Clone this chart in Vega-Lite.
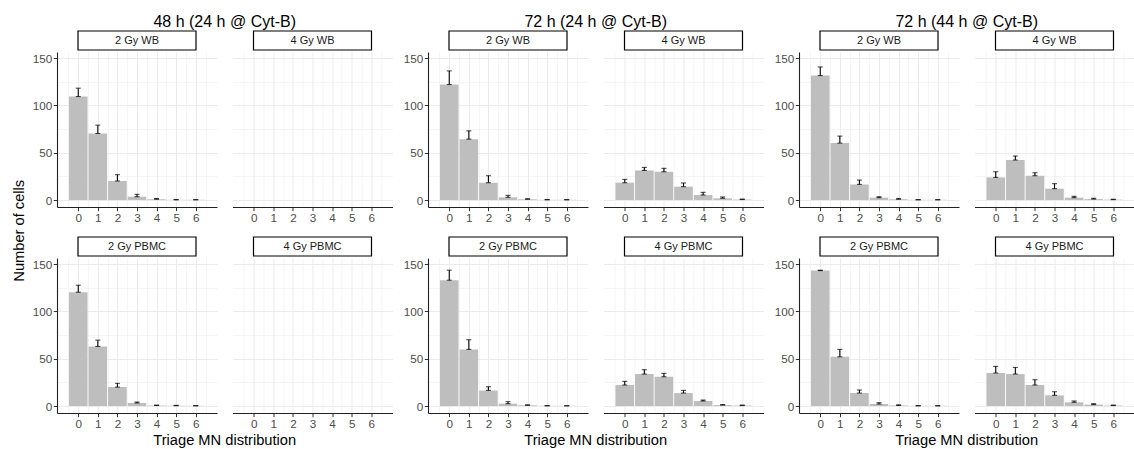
{
"$schema": "https://vega.github.io/schema/vega-lite/v6.json",
"background": "white",
"autosize": {"type": "pad"},
"padding": {"left": 11, "top": 13, "right": 0, "bottom": 0},
"title": {"text": "Number of cells", "orient": "left", "anchor": "middle", "fontSize": 14.67, "offset": 6},
"spacing": 10,
"datasets": {"bars": [
{"group":"g1","panel":"2 Gy WB","MN":0,"value":109.5,"upper":118.3},
{"group":"g1","panel":"2 Gy WB","MN":1,"value":70.4,"upper":79.2},
{"group":"g1","panel":"2 Gy WB","MN":2,"value":20.1,"upper":26.8},
{"group":"g1","panel":"2 Gy WB","MN":3,"value":3.5,"upper":6.0},
{"group":"g1","panel":"2 Gy WB","MN":4,"value":0.8,"upper":1.6},
{"group":"g1","panel":"2 Gy WB","MN":5,"value":0.2,"upper":0.5},
{"group":"g1","panel":"2 Gy WB","MN":6,"value":0.2,"upper":0.4},
{"group":"g1","panel":"2 Gy PBMC","MN":0,"value":120.4,"upper":127.8},
{"group":"g1","panel":"2 Gy PBMC","MN":1,"value":63.0,"upper":69.7},
{"group":"g1","panel":"2 Gy PBMC","MN":2,"value":20.0,"upper":24.0},
{"group":"g1","panel":"2 Gy PBMC","MN":3,"value":3.2,"upper":4.2},
{"group":"g1","panel":"2 Gy PBMC","MN":4,"value":0.5,"upper":1.0},
{"group":"g1","panel":"2 Gy PBMC","MN":5,"value":0.3,"upper":0.7},
{"group":"g1","panel":"2 Gy PBMC","MN":6,"value":0.2,"upper":0.4},
{"group":"g2","panel":"2 Gy WB","MN":0,"value":122.2,"upper":136.6},
{"group":"g2","panel":"2 Gy WB","MN":1,"value":64.4,"upper":73.2},
{"group":"g2","panel":"2 Gy WB","MN":2,"value":18.3,"upper":25.7},
{"group":"g2","panel":"2 Gy WB","MN":3,"value":2.8,"upper":4.9},
{"group":"g2","panel":"2 Gy WB","MN":4,"value":0.8,"upper":1.3},
{"group":"g2","panel":"2 Gy WB","MN":5,"value":0.2,"upper":0.5},
{"group":"g2","panel":"2 Gy WB","MN":6,"value":0.2,"upper":0.4},
{"group":"g2","panel":"4 Gy WB","MN":0,"value":18.3,"upper":21.8},
{"group":"g2","panel":"4 Gy WB","MN":1,"value":31.3,"upper":34.5},
{"group":"g2","panel":"4 Gy WB","MN":2,"value":29.9,"upper":33.5},
{"group":"g2","panel":"4 Gy WB","MN":3,"value":14.1,"upper":18.0},
{"group":"g2","panel":"4 Gy WB","MN":4,"value":5.3,"upper":8.1},
{"group":"g2","panel":"4 Gy WB","MN":5,"value":1.8,"upper":3.2},
{"group":"g2","panel":"4 Gy WB","MN":6,"value":0.5,"upper":1.0},
{"group":"g2","panel":"2 Gy PBMC","MN":0,"value":133.1,"upper":143.7},
{"group":"g2","panel":"2 Gy PBMC","MN":1,"value":59.9,"upper":70.1},
{"group":"g2","panel":"2 Gy PBMC","MN":2,"value":16.5,"upper":20.4},
{"group":"g2","panel":"2 Gy PBMC","MN":3,"value":2.5,"upper":4.6},
{"group":"g2","panel":"2 Gy PBMC","MN":4,"value":0.8,"upper":1.2},
{"group":"g2","panel":"2 Gy PBMC","MN":5,"value":0.2,"upper":0.4},
{"group":"g2","panel":"2 Gy PBMC","MN":6,"value":0.2,"upper":0.3},
{"group":"g2","panel":"4 Gy PBMC","MN":0,"value":22.2,"upper":26.1},
{"group":"g2","panel":"4 Gy PBMC","MN":1,"value":33.8,"upper":38.4},
{"group":"g2","panel":"4 Gy PBMC","MN":2,"value":31.0,"upper":34.5},
{"group":"g2","panel":"4 Gy PBMC","MN":3,"value":13.7,"upper":16.5},
{"group":"g2","panel":"4 Gy PBMC","MN":4,"value":5.3,"upper":6.3},
{"group":"g2","panel":"4 Gy PBMC","MN":5,"value":1.0,"upper":1.5},
{"group":"g2","panel":"4 Gy PBMC","MN":6,"value":0.5,"upper":1.0},
{"group":"g3","panel":"2 Gy WB","MN":0,"value":131.7,"upper":140.8},
{"group":"g3","panel":"2 Gy WB","MN":1,"value":60.2,"upper":67.6},
{"group":"g3","panel":"2 Gy WB","MN":2,"value":16.5,"upper":21.1},
{"group":"g3","panel":"2 Gy WB","MN":3,"value":2.5,"upper":3.5},
{"group":"g3","panel":"2 Gy WB","MN":4,"value":0.8,"upper":1.5},
{"group":"g3","panel":"2 Gy WB","MN":5,"value":0.2,"upper":0.4},
{"group":"g3","panel":"2 Gy WB","MN":6,"value":0.2,"upper":0.4},
{"group":"g3","panel":"4 Gy WB","MN":0,"value":23.9,"upper":29.9},
{"group":"g3","panel":"4 Gy WB","MN":1,"value":42.3,"upper":46.5},
{"group":"g3","panel":"4 Gy WB","MN":2,"value":25.7,"upper":28.9},
{"group":"g3","panel":"4 Gy WB","MN":3,"value":12.0,"upper":17.3},
{"group":"g3","panel":"4 Gy WB","MN":4,"value":2.5,"upper":3.9},
{"group":"g3","panel":"4 Gy WB","MN":5,"value":1.0,"upper":1.8},
{"group":"g3","panel":"4 Gy WB","MN":6,"value":0.4,"upper":0.8},
{"group":"g3","panel":"2 Gy PBMC","MN":0,"value":143.3,"upper":143.7},
{"group":"g3","panel":"2 Gy PBMC","MN":1,"value":52.1,"upper":59.9},
{"group":"g3","panel":"2 Gy PBMC","MN":2,"value":13.7,"upper":16.9},
{"group":"g3","panel":"2 Gy PBMC","MN":3,"value":2.1,"upper":3.5},
{"group":"g3","panel":"2 Gy PBMC","MN":4,"value":0.6,"upper":1.2},
{"group":"g3","panel":"2 Gy PBMC","MN":5,"value":0.2,"upper":0.4},
{"group":"g3","panel":"2 Gy PBMC","MN":6,"value":0.2,"upper":0.3},
{"group":"g3","panel":"4 Gy PBMC","MN":0,"value":34.9,"upper":41.9},
{"group":"g3","panel":"4 Gy PBMC","MN":1,"value":33.8,"upper":40.8},
{"group":"g3","panel":"4 Gy PBMC","MN":2,"value":22.2,"upper":27.8},
{"group":"g3","panel":"4 Gy PBMC","MN":3,"value":11.3,"upper":15.1},
{"group":"g3","panel":"4 Gy PBMC","MN":4,"value":3.9,"upper":5.3},
{"group":"g3","panel":"4 Gy PBMC","MN":5,"value":1.5,"upper":2.5},
{"group":"g3","panel":"4 Gy PBMC","MN":6,"value":0.5,"upper":1.0}
]},
"hconcat": [
{"title": {"text": "48 h (24 h @ Cyt-B)", "fontSize": 16, "anchor": "middle", "dx": 12.3, "offset": 0.5},
 "spacing": 12,
 "vconcat": [
  {"spacing": 15.5, "hconcat": [
   {"spacing": 1, "vconcat": [
    {"width": 160, "height": 19, "data": {"values": [{"label": "2 Gy WB"}]}, "layer": [
     {"mark": {"type": "rect", "fill": "white", "stroke": "black", "strokeWidth": 1.2}, "encoding": {"x": {"datum": 0, "type": "quantitative", "scale": {"domain": [-0.178, 1.178], "nice": false, "zero": false}, "axis": null}, "x2": {"datum": 1}}},
     {"mark": {"type": "text", "fontSize": 11, "color": "#1a1a1a"}, "encoding": {"text": {"field": "label"}}}]},
    {"width": 160, "height": 155, "data": {"name": "bars"}, "transform": [{"filter": "datum.group == 'g1' && datum.panel == '2 Gy WB'"}],
     "encoding": {
      "x": {"field": "MN", "type": "quantitative", "scale": {"domain": [-0.83, 6.83], "nice": false, "zero": false}, "axis": {"title": null, "values": [-0.5,0,0.5,1,1.5,2,2.5,3,3.5,4,4.5,5,5.5,6,6.5], "format": ".0f", "labelExpr": "datum.value % 1 == 0 ? datum.label : ''", "tickOpacity": {"condition": {"test": "datum.value % 1 != 0", "value": 0}, "value": 1}, "gridWidth": {"condition": {"test": "datum.value % 1 != 0", "value": 0.5}, "value": 1}, "grid": true, "labelOverlap": false, "labelBound": false, "labelFlush": false}},
      "y": {"field": "value", "type": "quantitative", "scale": {"domain": [-7.4, 156.6], "nice": false, "zero": false}, "axis": {"title": null, "values": [0,25,50,75,100,125,150], "labelExpr": "datum.value % 50 == 0 ? datum.label : ''", "tickOpacity": {"condition": {"test": "datum.value % 50 != 0", "value": 0}, "value": 1}, "gridWidth": {"condition": {"test": "datum.value % 50 != 0", "value": 0.5}, "value": 1}, "grid": true, "labelOverlap": false}}},
     "layer": [
      {"mark": {"type": "bar", "width": 18.6, "fill": "#bebebe"}, "encoding": {"y2": {"datum": 0}}},
      {"mark": {"type": "rule", "color": "black", "strokeWidth": 1.1}, "encoding": {"y2": {"field": "upper"}}},
      {"mark": {"type": "tick", "orient": "horizontal", "size": 5, "thickness": 1.1, "color": "black"}},
      {"mark": {"type": "tick", "orient": "horizontal", "size": 5, "thickness": 1.1, "color": "black"}, "encoding": {"y": {"field": "upper", "type": "quantitative", "scale": {"domain": [-7.4, 156.6], "nice": false, "zero": false}, "axis": {"title": null, "values": [0,25,50,75,100,125,150], "labelExpr": "datum.value % 50 == 0 ? datum.label : ''", "tickOpacity": {"condition": {"test": "datum.value % 50 != 0", "value": 0}, "value": 1}, "gridWidth": {"condition": {"test": "datum.value % 50 != 0", "value": 0.5}, "value": 1}, "grid": true, "labelOverlap": false}}}}
     ]}
   ]},
   {"spacing": 1, "vconcat": [
    {"width": 160, "height": 19, "data": {"values": [{"label": "4 Gy WB"}]}, "layer": [
     {"mark": {"type": "rect", "fill": "white", "stroke": "black", "strokeWidth": 1.2}, "encoding": {"x": {"datum": 0, "type": "quantitative", "scale": {"domain": [-0.178, 1.178], "nice": false, "zero": false}, "axis": null}, "x2": {"datum": 1}}},
     {"mark": {"type": "text", "fontSize": 11, "color": "#1a1a1a"}, "encoding": {"text": {"field": "label"}}}]},
    {"width": 160, "height": 155, "data": {"name": "bars"}, "transform": [{"filter": "datum.group == 'g1' && datum.panel == '4 Gy WB'"}],
     "encoding": {
      "x": {"field": "MN", "type": "quantitative", "scale": {"domain": [-0.83, 6.83], "nice": false, "zero": false}, "axis": {"title": null, "values": [-0.5,0,0.5,1,1.5,2,2.5,3,3.5,4,4.5,5,5.5,6,6.5], "format": ".0f", "labelExpr": "datum.value % 1 == 0 ? datum.label : ''", "tickOpacity": {"condition": {"test": "datum.value % 1 != 0", "value": 0}, "value": 1}, "gridWidth": {"condition": {"test": "datum.value % 1 != 0", "value": 0.5}, "value": 1}, "grid": true, "labelOverlap": false, "labelBound": false, "labelFlush": false}},
      "y": {"field": "value", "type": "quantitative", "scale": {"domain": [-7.4, 156.6], "nice": false, "zero": false}, "axis": {"title": null, "values": [0,25,50,75,100,125,150], "labels": false, "ticks": false, "domain": false, "gridWidth": {"condition": {"test": "datum.value % 50 != 0", "value": 0.5}, "value": 1}, "grid": true}}},
     "layer": [
      {"mark": {"type": "bar", "width": 18.6, "fill": "#bebebe"}, "encoding": {"y2": {"datum": 0}}},
      {"mark": {"type": "rule", "color": "black", "strokeWidth": 1.1}, "encoding": {"y2": {"field": "upper"}}},
      {"mark": {"type": "tick", "orient": "horizontal", "size": 5, "thickness": 1.1, "color": "black"}},
      {"mark": {"type": "tick", "orient": "horizontal", "size": 5, "thickness": 1.1, "color": "black"}, "encoding": {"y": {"field": "upper", "type": "quantitative", "scale": {"domain": [-7.4, 156.6], "nice": false, "zero": false}, "axis": {"title": null, "values": [0,25,50,75,100,125,150], "labels": false, "ticks": false, "domain": false, "gridWidth": {"condition": {"test": "datum.value % 50 != 0", "value": 0.5}, "value": 1}, "grid": true}}}}
     ]}
   ]}
  ]},
  {"spacing": 15.5, "title": {"text": "Triage MN distribution", "orient": "bottom", "fontSize": 14.67, "anchor": "middle", "dx": 12.3, "offset": 3}, "hconcat": [
   {"spacing": 1, "vconcat": [
    {"width": 160, "height": 19, "data": {"values": [{"label": "2 Gy PBMC"}]}, "layer": [
     {"mark": {"type": "rect", "fill": "white", "stroke": "black", "strokeWidth": 1.2}, "encoding": {"x": {"datum": 0, "type": "quantitative", "scale": {"domain": [-0.178, 1.178], "nice": false, "zero": false}, "axis": null}, "x2": {"datum": 1}}},
     {"mark": {"type": "text", "fontSize": 11, "color": "#1a1a1a"}, "encoding": {"text": {"field": "label"}}}]},
    {"width": 160, "height": 155, "data": {"name": "bars"}, "transform": [{"filter": "datum.group == 'g1' && datum.panel == '2 Gy PBMC'"}],
     "encoding": {
      "x": {"field": "MN", "type": "quantitative", "scale": {"domain": [-0.83, 6.83], "nice": false, "zero": false}, "axis": {"title": null, "values": [-0.5,0,0.5,1,1.5,2,2.5,3,3.5,4,4.5,5,5.5,6,6.5], "format": ".0f", "labelExpr": "datum.value % 1 == 0 ? datum.label : ''", "tickOpacity": {"condition": {"test": "datum.value % 1 != 0", "value": 0}, "value": 1}, "gridWidth": {"condition": {"test": "datum.value % 1 != 0", "value": 0.5}, "value": 1}, "grid": true, "labelOverlap": false, "labelBound": false, "labelFlush": false}},
      "y": {"field": "value", "type": "quantitative", "scale": {"domain": [-7.4, 156.6], "nice": false, "zero": false}, "axis": {"title": null, "values": [0,25,50,75,100,125,150], "labelExpr": "datum.value % 50 == 0 ? datum.label : ''", "tickOpacity": {"condition": {"test": "datum.value % 50 != 0", "value": 0}, "value": 1}, "gridWidth": {"condition": {"test": "datum.value % 50 != 0", "value": 0.5}, "value": 1}, "grid": true, "labelOverlap": false}}},
     "layer": [
      {"mark": {"type": "bar", "width": 18.6, "fill": "#bebebe"}, "encoding": {"y2": {"datum": 0}}},
      {"mark": {"type": "rule", "color": "black", "strokeWidth": 1.1}, "encoding": {"y2": {"field": "upper"}}},
      {"mark": {"type": "tick", "orient": "horizontal", "size": 5, "thickness": 1.1, "color": "black"}},
      {"mark": {"type": "tick", "orient": "horizontal", "size": 5, "thickness": 1.1, "color": "black"}, "encoding": {"y": {"field": "upper", "type": "quantitative", "scale": {"domain": [-7.4, 156.6], "nice": false, "zero": false}, "axis": {"title": null, "values": [0,25,50,75,100,125,150], "labelExpr": "datum.value % 50 == 0 ? datum.label : ''", "tickOpacity": {"condition": {"test": "datum.value % 50 != 0", "value": 0}, "value": 1}, "gridWidth": {"condition": {"test": "datum.value % 50 != 0", "value": 0.5}, "value": 1}, "grid": true, "labelOverlap": false}}}}
     ]}
   ]},
   {"spacing": 1, "vconcat": [
    {"width": 160, "height": 19, "data": {"values": [{"label": "4 Gy PBMC"}]}, "layer": [
     {"mark": {"type": "rect", "fill": "white", "stroke": "black", "strokeWidth": 1.2}, "encoding": {"x": {"datum": 0, "type": "quantitative", "scale": {"domain": [-0.178, 1.178], "nice": false, "zero": false}, "axis": null}, "x2": {"datum": 1}}},
     {"mark": {"type": "text", "fontSize": 11, "color": "#1a1a1a"}, "encoding": {"text": {"field": "label"}}}]},
    {"width": 160, "height": 155, "data": {"name": "bars"}, "transform": [{"filter": "datum.group == 'g1' && datum.panel == '4 Gy PBMC'"}],
     "encoding": {
      "x": {"field": "MN", "type": "quantitative", "scale": {"domain": [-0.83, 6.83], "nice": false, "zero": false}, "axis": {"title": null, "values": [-0.5,0,0.5,1,1.5,2,2.5,3,3.5,4,4.5,5,5.5,6,6.5], "format": ".0f", "labelExpr": "datum.value % 1 == 0 ? datum.label : ''", "tickOpacity": {"condition": {"test": "datum.value % 1 != 0", "value": 0}, "value": 1}, "gridWidth": {"condition": {"test": "datum.value % 1 != 0", "value": 0.5}, "value": 1}, "grid": true, "labelOverlap": false, "labelBound": false, "labelFlush": false}},
      "y": {"field": "value", "type": "quantitative", "scale": {"domain": [-7.4, 156.6], "nice": false, "zero": false}, "axis": {"title": null, "values": [0,25,50,75,100,125,150], "labels": false, "ticks": false, "domain": false, "gridWidth": {"condition": {"test": "datum.value % 50 != 0", "value": 0.5}, "value": 1}, "grid": true}}},
     "layer": [
      {"mark": {"type": "bar", "width": 18.6, "fill": "#bebebe"}, "encoding": {"y2": {"datum": 0}}},
      {"mark": {"type": "rule", "color": "black", "strokeWidth": 1.1}, "encoding": {"y2": {"field": "upper"}}},
      {"mark": {"type": "tick", "orient": "horizontal", "size": 5, "thickness": 1.1, "color": "black"}},
      {"mark": {"type": "tick", "orient": "horizontal", "size": 5, "thickness": 1.1, "color": "black"}, "encoding": {"y": {"field": "upper", "type": "quantitative", "scale": {"domain": [-7.4, 156.6], "nice": false, "zero": false}, "axis": {"title": null, "values": [0,25,50,75,100,125,150], "labels": false, "ticks": false, "domain": false, "gridWidth": {"condition": {"test": "datum.value % 50 != 0", "value": 0.5}, "value": 1}, "grid": true}}}}
     ]}
   ]}
  ]}
 ]},
{"title": {"text": "72 h (24 h @ Cyt-B)", "fontSize": 16, "anchor": "middle", "dx": 12.3, "offset": 0.5},
 "spacing": 12,
 "vconcat": [
  {"spacing": 15.5, "hconcat": [
   {"spacing": 1, "vconcat": [
    {"width": 160, "height": 19, "data": {"values": [{"label": "2 Gy WB"}]}, "layer": [
     {"mark": {"type": "rect", "fill": "white", "stroke": "black", "strokeWidth": 1.2}, "encoding": {"x": {"datum": 0, "type": "quantitative", "scale": {"domain": [-0.178, 1.178], "nice": false, "zero": false}, "axis": null}, "x2": {"datum": 1}}},
     {"mark": {"type": "text", "fontSize": 11, "color": "#1a1a1a"}, "encoding": {"text": {"field": "label"}}}]},
    {"width": 160, "height": 155, "data": {"name": "bars"}, "transform": [{"filter": "datum.group == 'g2' && datum.panel == '2 Gy WB'"}],
     "encoding": {
      "x": {"field": "MN", "type": "quantitative", "scale": {"domain": [-0.83, 6.83], "nice": false, "zero": false}, "axis": {"title": null, "values": [-0.5,0,0.5,1,1.5,2,2.5,3,3.5,4,4.5,5,5.5,6,6.5], "format": ".0f", "labelExpr": "datum.value % 1 == 0 ? datum.label : ''", "tickOpacity": {"condition": {"test": "datum.value % 1 != 0", "value": 0}, "value": 1}, "gridWidth": {"condition": {"test": "datum.value % 1 != 0", "value": 0.5}, "value": 1}, "grid": true, "labelOverlap": false, "labelBound": false, "labelFlush": false}},
      "y": {"field": "value", "type": "quantitative", "scale": {"domain": [-7.4, 156.6], "nice": false, "zero": false}, "axis": {"title": null, "values": [0,25,50,75,100,125,150], "labelExpr": "datum.value % 50 == 0 ? datum.label : ''", "tickOpacity": {"condition": {"test": "datum.value % 50 != 0", "value": 0}, "value": 1}, "gridWidth": {"condition": {"test": "datum.value % 50 != 0", "value": 0.5}, "value": 1}, "grid": true, "labelOverlap": false}}},
     "layer": [
      {"mark": {"type": "bar", "width": 18.6, "fill": "#bebebe"}, "encoding": {"y2": {"datum": 0}}},
      {"mark": {"type": "rule", "color": "black", "strokeWidth": 1.1}, "encoding": {"y2": {"field": "upper"}}},
      {"mark": {"type": "tick", "orient": "horizontal", "size": 5, "thickness": 1.1, "color": "black"}},
      {"mark": {"type": "tick", "orient": "horizontal", "size": 5, "thickness": 1.1, "color": "black"}, "encoding": {"y": {"field": "upper", "type": "quantitative", "scale": {"domain": [-7.4, 156.6], "nice": false, "zero": false}, "axis": {"title": null, "values": [0,25,50,75,100,125,150], "labelExpr": "datum.value % 50 == 0 ? datum.label : ''", "tickOpacity": {"condition": {"test": "datum.value % 50 != 0", "value": 0}, "value": 1}, "gridWidth": {"condition": {"test": "datum.value % 50 != 0", "value": 0.5}, "value": 1}, "grid": true, "labelOverlap": false}}}}
     ]}
   ]},
   {"spacing": 1, "vconcat": [
    {"width": 160, "height": 19, "data": {"values": [{"label": "4 Gy WB"}]}, "layer": [
     {"mark": {"type": "rect", "fill": "white", "stroke": "black", "strokeWidth": 1.2}, "encoding": {"x": {"datum": 0, "type": "quantitative", "scale": {"domain": [-0.178, 1.178], "nice": false, "zero": false}, "axis": null}, "x2": {"datum": 1}}},
     {"mark": {"type": "text", "fontSize": 11, "color": "#1a1a1a"}, "encoding": {"text": {"field": "label"}}}]},
    {"width": 160, "height": 155, "data": {"name": "bars"}, "transform": [{"filter": "datum.group == 'g2' && datum.panel == '4 Gy WB'"}],
     "encoding": {
      "x": {"field": "MN", "type": "quantitative", "scale": {"domain": [-0.83, 6.83], "nice": false, "zero": false}, "axis": {"title": null, "values": [-0.5,0,0.5,1,1.5,2,2.5,3,3.5,4,4.5,5,5.5,6,6.5], "format": ".0f", "labelExpr": "datum.value % 1 == 0 ? datum.label : ''", "tickOpacity": {"condition": {"test": "datum.value % 1 != 0", "value": 0}, "value": 1}, "gridWidth": {"condition": {"test": "datum.value % 1 != 0", "value": 0.5}, "value": 1}, "grid": true, "labelOverlap": false, "labelBound": false, "labelFlush": false}},
      "y": {"field": "value", "type": "quantitative", "scale": {"domain": [-7.4, 156.6], "nice": false, "zero": false}, "axis": {"title": null, "values": [0,25,50,75,100,125,150], "labels": false, "ticks": false, "domain": false, "gridWidth": {"condition": {"test": "datum.value % 50 != 0", "value": 0.5}, "value": 1}, "grid": true}}},
     "layer": [
      {"mark": {"type": "bar", "width": 18.6, "fill": "#bebebe"}, "encoding": {"y2": {"datum": 0}}},
      {"mark": {"type": "rule", "color": "black", "strokeWidth": 1.1}, "encoding": {"y2": {"field": "upper"}}},
      {"mark": {"type": "tick", "orient": "horizontal", "size": 5, "thickness": 1.1, "color": "black"}},
      {"mark": {"type": "tick", "orient": "horizontal", "size": 5, "thickness": 1.1, "color": "black"}, "encoding": {"y": {"field": "upper", "type": "quantitative", "scale": {"domain": [-7.4, 156.6], "nice": false, "zero": false}, "axis": {"title": null, "values": [0,25,50,75,100,125,150], "labels": false, "ticks": false, "domain": false, "gridWidth": {"condition": {"test": "datum.value % 50 != 0", "value": 0.5}, "value": 1}, "grid": true}}}}
     ]}
   ]}
  ]},
  {"spacing": 15.5, "title": {"text": "Triage MN distribution", "orient": "bottom", "fontSize": 14.67, "anchor": "middle", "dx": 12.3, "offset": 3}, "hconcat": [
   {"spacing": 1, "vconcat": [
    {"width": 160, "height": 19, "data": {"values": [{"label": "2 Gy PBMC"}]}, "layer": [
     {"mark": {"type": "rect", "fill": "white", "stroke": "black", "strokeWidth": 1.2}, "encoding": {"x": {"datum": 0, "type": "quantitative", "scale": {"domain": [-0.178, 1.178], "nice": false, "zero": false}, "axis": null}, "x2": {"datum": 1}}},
     {"mark": {"type": "text", "fontSize": 11, "color": "#1a1a1a"}, "encoding": {"text": {"field": "label"}}}]},
    {"width": 160, "height": 155, "data": {"name": "bars"}, "transform": [{"filter": "datum.group == 'g2' && datum.panel == '2 Gy PBMC'"}],
     "encoding": {
      "x": {"field": "MN", "type": "quantitative", "scale": {"domain": [-0.83, 6.83], "nice": false, "zero": false}, "axis": {"title": null, "values": [-0.5,0,0.5,1,1.5,2,2.5,3,3.5,4,4.5,5,5.5,6,6.5], "format": ".0f", "labelExpr": "datum.value % 1 == 0 ? datum.label : ''", "tickOpacity": {"condition": {"test": "datum.value % 1 != 0", "value": 0}, "value": 1}, "gridWidth": {"condition": {"test": "datum.value % 1 != 0", "value": 0.5}, "value": 1}, "grid": true, "labelOverlap": false, "labelBound": false, "labelFlush": false}},
      "y": {"field": "value", "type": "quantitative", "scale": {"domain": [-7.4, 156.6], "nice": false, "zero": false}, "axis": {"title": null, "values": [0,25,50,75,100,125,150], "labelExpr": "datum.value % 50 == 0 ? datum.label : ''", "tickOpacity": {"condition": {"test": "datum.value % 50 != 0", "value": 0}, "value": 1}, "gridWidth": {"condition": {"test": "datum.value % 50 != 0", "value": 0.5}, "value": 1}, "grid": true, "labelOverlap": false}}},
     "layer": [
      {"mark": {"type": "bar", "width": 18.6, "fill": "#bebebe"}, "encoding": {"y2": {"datum": 0}}},
      {"mark": {"type": "rule", "color": "black", "strokeWidth": 1.1}, "encoding": {"y2": {"field": "upper"}}},
      {"mark": {"type": "tick", "orient": "horizontal", "size": 5, "thickness": 1.1, "color": "black"}},
      {"mark": {"type": "tick", "orient": "horizontal", "size": 5, "thickness": 1.1, "color": "black"}, "encoding": {"y": {"field": "upper", "type": "quantitative", "scale": {"domain": [-7.4, 156.6], "nice": false, "zero": false}, "axis": {"title": null, "values": [0,25,50,75,100,125,150], "labelExpr": "datum.value % 50 == 0 ? datum.label : ''", "tickOpacity": {"condition": {"test": "datum.value % 50 != 0", "value": 0}, "value": 1}, "gridWidth": {"condition": {"test": "datum.value % 50 != 0", "value": 0.5}, "value": 1}, "grid": true, "labelOverlap": false}}}}
     ]}
   ]},
   {"spacing": 1, "vconcat": [
    {"width": 160, "height": 19, "data": {"values": [{"label": "4 Gy PBMC"}]}, "layer": [
     {"mark": {"type": "rect", "fill": "white", "stroke": "black", "strokeWidth": 1.2}, "encoding": {"x": {"datum": 0, "type": "quantitative", "scale": {"domain": [-0.178, 1.178], "nice": false, "zero": false}, "axis": null}, "x2": {"datum": 1}}},
     {"mark": {"type": "text", "fontSize": 11, "color": "#1a1a1a"}, "encoding": {"text": {"field": "label"}}}]},
    {"width": 160, "height": 155, "data": {"name": "bars"}, "transform": [{"filter": "datum.group == 'g2' && datum.panel == '4 Gy PBMC'"}],
     "encoding": {
      "x": {"field": "MN", "type": "quantitative", "scale": {"domain": [-0.83, 6.83], "nice": false, "zero": false}, "axis": {"title": null, "values": [-0.5,0,0.5,1,1.5,2,2.5,3,3.5,4,4.5,5,5.5,6,6.5], "format": ".0f", "labelExpr": "datum.value % 1 == 0 ? datum.label : ''", "tickOpacity": {"condition": {"test": "datum.value % 1 != 0", "value": 0}, "value": 1}, "gridWidth": {"condition": {"test": "datum.value % 1 != 0", "value": 0.5}, "value": 1}, "grid": true, "labelOverlap": false, "labelBound": false, "labelFlush": false}},
      "y": {"field": "value", "type": "quantitative", "scale": {"domain": [-7.4, 156.6], "nice": false, "zero": false}, "axis": {"title": null, "values": [0,25,50,75,100,125,150], "labels": false, "ticks": false, "domain": false, "gridWidth": {"condition": {"test": "datum.value % 50 != 0", "value": 0.5}, "value": 1}, "grid": true}}},
     "layer": [
      {"mark": {"type": "bar", "width": 18.6, "fill": "#bebebe"}, "encoding": {"y2": {"datum": 0}}},
      {"mark": {"type": "rule", "color": "black", "strokeWidth": 1.1}, "encoding": {"y2": {"field": "upper"}}},
      {"mark": {"type": "tick", "orient": "horizontal", "size": 5, "thickness": 1.1, "color": "black"}},
      {"mark": {"type": "tick", "orient": "horizontal", "size": 5, "thickness": 1.1, "color": "black"}, "encoding": {"y": {"field": "upper", "type": "quantitative", "scale": {"domain": [-7.4, 156.6], "nice": false, "zero": false}, "axis": {"title": null, "values": [0,25,50,75,100,125,150], "labels": false, "ticks": false, "domain": false, "gridWidth": {"condition": {"test": "datum.value % 50 != 0", "value": 0.5}, "value": 1}, "grid": true}}}}
     ]}
   ]}
  ]}
 ]},
{"title": {"text": "72 h (44 h @ Cyt-B)", "fontSize": 16, "anchor": "middle", "dx": 12.3, "offset": 0.5},
 "spacing": 12,
 "vconcat": [
  {"spacing": 15.5, "hconcat": [
   {"spacing": 1, "vconcat": [
    {"width": 160, "height": 19, "data": {"values": [{"label": "2 Gy WB"}]}, "layer": [
     {"mark": {"type": "rect", "fill": "white", "stroke": "black", "strokeWidth": 1.2}, "encoding": {"x": {"datum": 0, "type": "quantitative", "scale": {"domain": [-0.178, 1.178], "nice": false, "zero": false}, "axis": null}, "x2": {"datum": 1}}},
     {"mark": {"type": "text", "fontSize": 11, "color": "#1a1a1a"}, "encoding": {"text": {"field": "label"}}}]},
    {"width": 160, "height": 155, "data": {"name": "bars"}, "transform": [{"filter": "datum.group == 'g3' && datum.panel == '2 Gy WB'"}],
     "encoding": {
      "x": {"field": "MN", "type": "quantitative", "scale": {"domain": [-0.83, 6.83], "nice": false, "zero": false}, "axis": {"title": null, "values": [-0.5,0,0.5,1,1.5,2,2.5,3,3.5,4,4.5,5,5.5,6,6.5], "format": ".0f", "labelExpr": "datum.value % 1 == 0 ? datum.label : ''", "tickOpacity": {"condition": {"test": "datum.value % 1 != 0", "value": 0}, "value": 1}, "gridWidth": {"condition": {"test": "datum.value % 1 != 0", "value": 0.5}, "value": 1}, "grid": true, "labelOverlap": false, "labelBound": false, "labelFlush": false}},
      "y": {"field": "value", "type": "quantitative", "scale": {"domain": [-7.4, 156.6], "nice": false, "zero": false}, "axis": {"title": null, "values": [0,25,50,75,100,125,150], "labelExpr": "datum.value % 50 == 0 ? datum.label : ''", "tickOpacity": {"condition": {"test": "datum.value % 50 != 0", "value": 0}, "value": 1}, "gridWidth": {"condition": {"test": "datum.value % 50 != 0", "value": 0.5}, "value": 1}, "grid": true, "labelOverlap": false}}},
     "layer": [
      {"mark": {"type": "bar", "width": 18.6, "fill": "#bebebe"}, "encoding": {"y2": {"datum": 0}}},
      {"mark": {"type": "rule", "color": "black", "strokeWidth": 1.1}, "encoding": {"y2": {"field": "upper"}}},
      {"mark": {"type": "tick", "orient": "horizontal", "size": 5, "thickness": 1.1, "color": "black"}},
      {"mark": {"type": "tick", "orient": "horizontal", "size": 5, "thickness": 1.1, "color": "black"}, "encoding": {"y": {"field": "upper", "type": "quantitative", "scale": {"domain": [-7.4, 156.6], "nice": false, "zero": false}, "axis": {"title": null, "values": [0,25,50,75,100,125,150], "labelExpr": "datum.value % 50 == 0 ? datum.label : ''", "tickOpacity": {"condition": {"test": "datum.value % 50 != 0", "value": 0}, "value": 1}, "gridWidth": {"condition": {"test": "datum.value % 50 != 0", "value": 0.5}, "value": 1}, "grid": true, "labelOverlap": false}}}}
     ]}
   ]},
   {"spacing": 1, "vconcat": [
    {"width": 160, "height": 19, "data": {"values": [{"label": "4 Gy WB"}]}, "layer": [
     {"mark": {"type": "rect", "fill": "white", "stroke": "black", "strokeWidth": 1.2}, "encoding": {"x": {"datum": 0, "type": "quantitative", "scale": {"domain": [-0.178, 1.178], "nice": false, "zero": false}, "axis": null}, "x2": {"datum": 1}}},
     {"mark": {"type": "text", "fontSize": 11, "color": "#1a1a1a"}, "encoding": {"text": {"field": "label"}}}]},
    {"width": 160, "height": 155, "data": {"name": "bars"}, "transform": [{"filter": "datum.group == 'g3' && datum.panel == '4 Gy WB'"}],
     "encoding": {
      "x": {"field": "MN", "type": "quantitative", "scale": {"domain": [-0.83, 6.83], "nice": false, "zero": false}, "axis": {"title": null, "values": [-0.5,0,0.5,1,1.5,2,2.5,3,3.5,4,4.5,5,5.5,6,6.5], "format": ".0f", "labelExpr": "datum.value % 1 == 0 ? datum.label : ''", "tickOpacity": {"condition": {"test": "datum.value % 1 != 0", "value": 0}, "value": 1}, "gridWidth": {"condition": {"test": "datum.value % 1 != 0", "value": 0.5}, "value": 1}, "grid": true, "labelOverlap": false, "labelBound": false, "labelFlush": false}},
      "y": {"field": "value", "type": "quantitative", "scale": {"domain": [-7.4, 156.6], "nice": false, "zero": false}, "axis": {"title": null, "values": [0,25,50,75,100,125,150], "labels": false, "ticks": false, "domain": false, "gridWidth": {"condition": {"test": "datum.value % 50 != 0", "value": 0.5}, "value": 1}, "grid": true}}},
     "layer": [
      {"mark": {"type": "bar", "width": 18.6, "fill": "#bebebe"}, "encoding": {"y2": {"datum": 0}}},
      {"mark": {"type": "rule", "color": "black", "strokeWidth": 1.1}, "encoding": {"y2": {"field": "upper"}}},
      {"mark": {"type": "tick", "orient": "horizontal", "size": 5, "thickness": 1.1, "color": "black"}},
      {"mark": {"type": "tick", "orient": "horizontal", "size": 5, "thickness": 1.1, "color": "black"}, "encoding": {"y": {"field": "upper", "type": "quantitative", "scale": {"domain": [-7.4, 156.6], "nice": false, "zero": false}, "axis": {"title": null, "values": [0,25,50,75,100,125,150], "labels": false, "ticks": false, "domain": false, "gridWidth": {"condition": {"test": "datum.value % 50 != 0", "value": 0.5}, "value": 1}, "grid": true}}}}
     ]}
   ]}
  ]},
  {"spacing": 15.5, "title": {"text": "Triage MN distribution", "orient": "bottom", "fontSize": 14.67, "anchor": "middle", "dx": 12.3, "offset": 3}, "hconcat": [
   {"spacing": 1, "vconcat": [
    {"width": 160, "height": 19, "data": {"values": [{"label": "2 Gy PBMC"}]}, "layer": [
     {"mark": {"type": "rect", "fill": "white", "stroke": "black", "strokeWidth": 1.2}, "encoding": {"x": {"datum": 0, "type": "quantitative", "scale": {"domain": [-0.178, 1.178], "nice": false, "zero": false}, "axis": null}, "x2": {"datum": 1}}},
     {"mark": {"type": "text", "fontSize": 11, "color": "#1a1a1a"}, "encoding": {"text": {"field": "label"}}}]},
    {"width": 160, "height": 155, "data": {"name": "bars"}, "transform": [{"filter": "datum.group == 'g3' && datum.panel == '2 Gy PBMC'"}],
     "encoding": {
      "x": {"field": "MN", "type": "quantitative", "scale": {"domain": [-0.83, 6.83], "nice": false, "zero": false}, "axis": {"title": null, "values": [-0.5,0,0.5,1,1.5,2,2.5,3,3.5,4,4.5,5,5.5,6,6.5], "format": ".0f", "labelExpr": "datum.value % 1 == 0 ? datum.label : ''", "tickOpacity": {"condition": {"test": "datum.value % 1 != 0", "value": 0}, "value": 1}, "gridWidth": {"condition": {"test": "datum.value % 1 != 0", "value": 0.5}, "value": 1}, "grid": true, "labelOverlap": false, "labelBound": false, "labelFlush": false}},
      "y": {"field": "value", "type": "quantitative", "scale": {"domain": [-7.4, 156.6], "nice": false, "zero": false}, "axis": {"title": null, "values": [0,25,50,75,100,125,150], "labelExpr": "datum.value % 50 == 0 ? datum.label : ''", "tickOpacity": {"condition": {"test": "datum.value % 50 != 0", "value": 0}, "value": 1}, "gridWidth": {"condition": {"test": "datum.value % 50 != 0", "value": 0.5}, "value": 1}, "grid": true, "labelOverlap": false}}},
     "layer": [
      {"mark": {"type": "bar", "width": 18.6, "fill": "#bebebe"}, "encoding": {"y2": {"datum": 0}}},
      {"mark": {"type": "rule", "color": "black", "strokeWidth": 1.1}, "encoding": {"y2": {"field": "upper"}}},
      {"mark": {"type": "tick", "orient": "horizontal", "size": 5, "thickness": 1.1, "color": "black"}},
      {"mark": {"type": "tick", "orient": "horizontal", "size": 5, "thickness": 1.1, "color": "black"}, "encoding": {"y": {"field": "upper", "type": "quantitative", "scale": {"domain": [-7.4, 156.6], "nice": false, "zero": false}, "axis": {"title": null, "values": [0,25,50,75,100,125,150], "labelExpr": "datum.value % 50 == 0 ? datum.label : ''", "tickOpacity": {"condition": {"test": "datum.value % 50 != 0", "value": 0}, "value": 1}, "gridWidth": {"condition": {"test": "datum.value % 50 != 0", "value": 0.5}, "value": 1}, "grid": true, "labelOverlap": false}}}}
     ]}
   ]},
   {"spacing": 1, "vconcat": [
    {"width": 160, "height": 19, "data": {"values": [{"label": "4 Gy PBMC"}]}, "layer": [
     {"mark": {"type": "rect", "fill": "white", "stroke": "black", "strokeWidth": 1.2}, "encoding": {"x": {"datum": 0, "type": "quantitative", "scale": {"domain": [-0.178, 1.178], "nice": false, "zero": false}, "axis": null}, "x2": {"datum": 1}}},
     {"mark": {"type": "text", "fontSize": 11, "color": "#1a1a1a"}, "encoding": {"text": {"field": "label"}}}]},
    {"width": 160, "height": 155, "data": {"name": "bars"}, "transform": [{"filter": "datum.group == 'g3' && datum.panel == '4 Gy PBMC'"}],
     "encoding": {
      "x": {"field": "MN", "type": "quantitative", "scale": {"domain": [-0.83, 6.83], "nice": false, "zero": false}, "axis": {"title": null, "values": [-0.5,0,0.5,1,1.5,2,2.5,3,3.5,4,4.5,5,5.5,6,6.5], "format": ".0f", "labelExpr": "datum.value % 1 == 0 ? datum.label : ''", "tickOpacity": {"condition": {"test": "datum.value % 1 != 0", "value": 0}, "value": 1}, "gridWidth": {"condition": {"test": "datum.value % 1 != 0", "value": 0.5}, "value": 1}, "grid": true, "labelOverlap": false, "labelBound": false, "labelFlush": false}},
      "y": {"field": "value", "type": "quantitative", "scale": {"domain": [-7.4, 156.6], "nice": false, "zero": false}, "axis": {"title": null, "values": [0,25,50,75,100,125,150], "labels": false, "ticks": false, "domain": false, "gridWidth": {"condition": {"test": "datum.value % 50 != 0", "value": 0.5}, "value": 1}, "grid": true}}},
     "layer": [
      {"mark": {"type": "bar", "width": 18.6, "fill": "#bebebe"}, "encoding": {"y2": {"datum": 0}}},
      {"mark": {"type": "rule", "color": "black", "strokeWidth": 1.1}, "encoding": {"y2": {"field": "upper"}}},
      {"mark": {"type": "tick", "orient": "horizontal", "size": 5, "thickness": 1.1, "color": "black"}},
      {"mark": {"type": "tick", "orient": "horizontal", "size": 5, "thickness": 1.1, "color": "black"}, "encoding": {"y": {"field": "upper", "type": "quantitative", "scale": {"domain": [-7.4, 156.6], "nice": false, "zero": false}, "axis": {"title": null, "values": [0,25,50,75,100,125,150], "labels": false, "ticks": false, "domain": false, "gridWidth": {"condition": {"test": "datum.value % 50 != 0", "value": 0.5}, "value": 1}, "grid": true}}}}
     ]}
   ]}
  ]}
 ]}
],
"config": {
 "font": "Liberation Sans",
 "view": {"stroke": null},
 "title": {"font": "Liberation Sans", "fontWeight": "normal", "color": "black"},
 "axis": {"labelFont": "Liberation Sans", "labelFontSize": 11.7, "labelColor": "#4d4d4d", "tickColor": "#333333", "tickSize": 3.7, "tickWidth": 1, "domainColor": "#222222", "domainWidth": 1.1, "labelPadding": 1.5, "gridColor": "#ebebeb"}
}
}
